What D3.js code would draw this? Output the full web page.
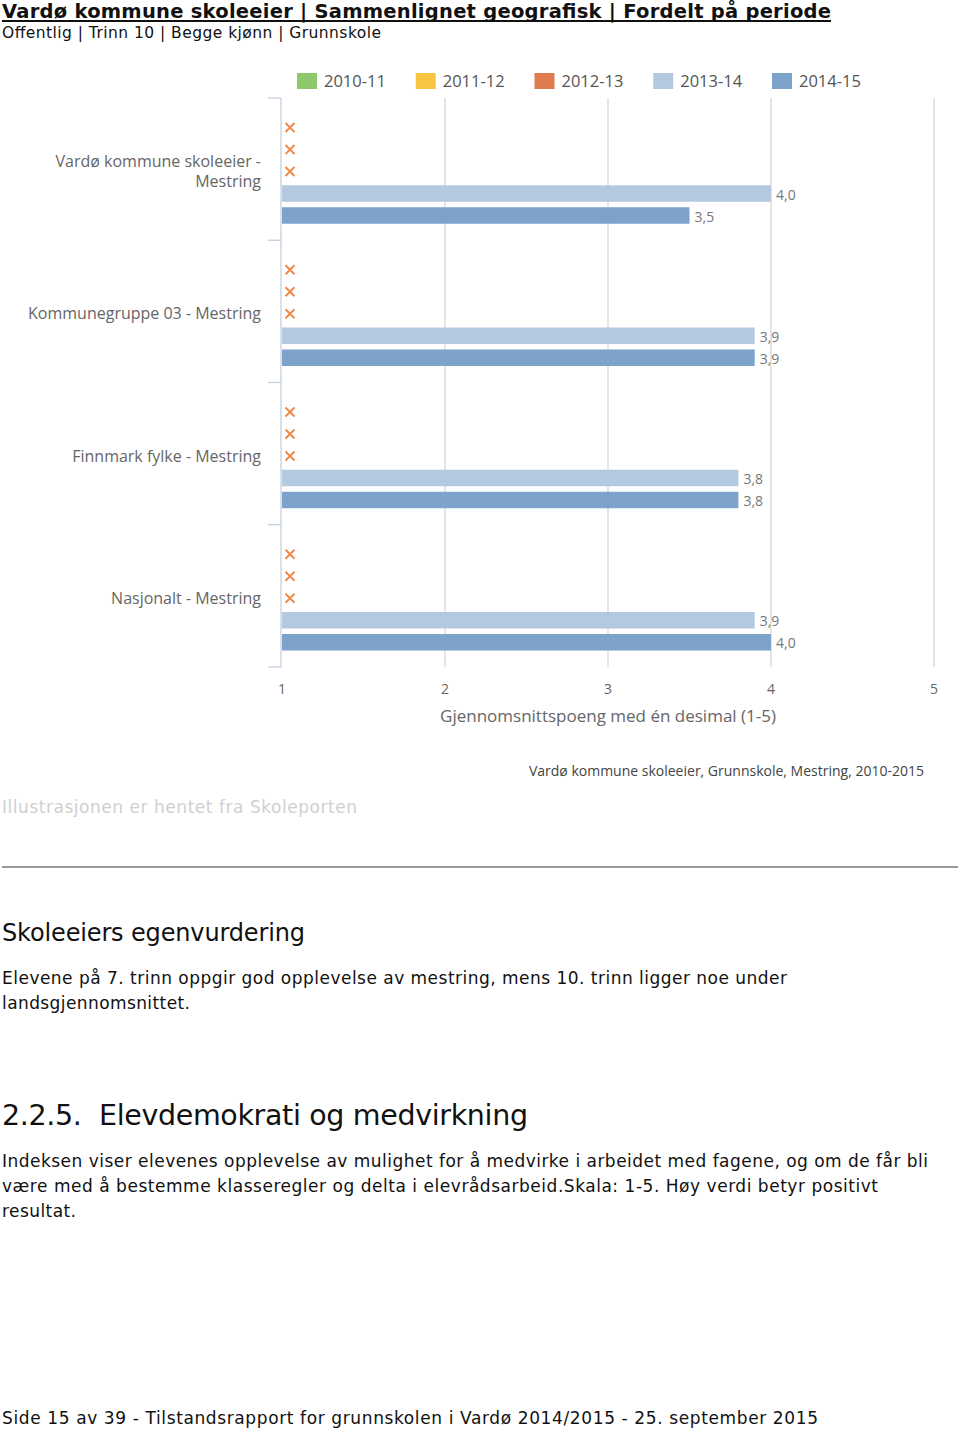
<!DOCTYPE html>
<html><head><meta charset="utf-8">
<script src="https://cdn.jsdelivr.net/npm/d3@7"></script>
<style>
body{margin:0;background:#fff;}
svg{display:block;}
</style></head>
<body>
<svg id="c" width="960" height="1432"></svg>
<script>
// ---- data ----
const categories = ["Vardø kommune skoleeier - Mestring", "Kommunegruppe 03 - Mestring", "Finnmark fylke - Mestring", "Nasjonalt - Mestring"];
const categoryLines = [["Vardø kommune skoleeier -", "Mestring"], ["Kommunegruppe 03 - Mestring"], ["Finnmark fylke - Mestring"], ["Nasjonalt - Mestring"]];
const periods = ["2010-11", "2011-12", "2012-13", "2013-14", "2014-15"];
const periodColors = ["#8DC96B", "#F9C440", "#E07B4F", "#B3C9DF", "#7DA3CA"];
const values2010_11 = [null, null, null, null];
const values2011_12 = [null, null, null, null];
const values2012_13 = [null, null, null, null];
const values2013_14 = [4.0, 3.9, 3.8, 3.9];
const values2014_15 = [3.5, 3.9, 3.8, 4.0];
const seriesValues = [values2010_11, values2011_12, values2012_13, values2013_14, values2014_15];
const xTicks = [1, 2, 3, 4, 5];

const svg = d3.select("#c");
const SANS = "'DejaVu Sans', Verdana, sans-serif";
const CH = "'Open Sans', 'Segoe UI', sans-serif";

function bodyText(x, y, size, txt, width, opts = {}) {
  const t = svg.append("text").attr("x", x).attr("y", y)
    .attr("font-family", SANS).attr("font-size", size).attr("fill", opts.fill || "#111")
    .attr("font-weight", opts.bold ? "bold" : "normal")
    .attr("xml:space", "preserve")
    .text(txt);
  if (width) t.attr("textLength", width).attr("lengthAdjust", "spacing");
  return t;
}

// ---- header ----
bodyText(2, 18, 19.5, "Vardø kommune skoleeier | Sammenlignet geografisk | Fordelt på periode", 829, { bold: true });
svg.append("line").attr("x1", 2).attr("x2", 831).attr("y1", 21).attr("y2", 21)
  .attr("stroke", "#111").attr("stroke-width", 2);
bodyText(2, 38, 15.5, "Offentlig | Trinn 10 | Begge kjønn | Grunnskole", 379);

// ---- scales ----
const x = d3.scaleLinear().domain([1, 5]).range([282, 934]);
const y = d3.scaleBand().domain(categories).range([98, 667]).padding(0);
const inner = d3.scaleBand().domain(periods).range([18.5, 128.5]).paddingInner(0.25).paddingOuter(0.125);

// gridlines
svg.append("g").selectAll("line").data(xTicks.slice(1)).join("line")
  .attr("x1", d => x(d)).attr("x2", d => x(d)).attr("y1", 98).attr("y2", 667)
  .attr("stroke", "#DDDDDD").attr("stroke-width", 1.5);

// x tick labels
svg.append("g").selectAll("text").data(xTicks).join("text")
  .attr("x", d => x(d)).attr("y", 694).attr("text-anchor", "middle")
  .attr("font-family", CH).attr("font-size", 14).attr("fill", "#666")
  .text(d => d);

svg.append("text").attr("x", x(3)).attr("y", 722).attr("text-anchor", "middle")
  .attr("font-family", CH).attr("font-size", 17).attr("fill", "#666")
  .text("Gjennomsnittspoeng med én desimal (1-5)");

// left axis
svg.append("line").attr("x1", 281).attr("x2", 281).attr("y1", 98).attr("y2", 667)
  .attr("stroke", "#C0CCDA").attr("stroke-width", 1.2);
const bounds = categories.map(c => y(c)).concat([y.range()[1]]);
svg.append("g").selectAll("line").data(bounds).join("line")
  .attr("x1", 268).attr("x2", 281).attr("y1", d => d).attr("y2", d => d)
  .attr("stroke", "#C0CCDA").attr("stroke-width", 1.2);

// category labels
categories.forEach((c, i) => {
  const lines = categoryLines[i];
  const cy = y(c) + y.bandwidth() / 2;
  const lh = 20;
  const t = svg.append("text").attr("text-anchor", "end")
    .attr("font-family", CH).attr("font-size", 16).attr("fill", "#666");
  lines.forEach((l, j) => {
    t.append("tspan").attr("x", 261)
      .attr("y", cy + (j - (lines.length - 1) / 2) * lh + 8)
      .text(l);
  });
});

// bars & missing markers
periods.forEach((p, si) => {
  categories.forEach((c, ci) => {
    const v = seriesValues[si][ci];
    const top = y(c) + inner(p);
    const cy = top + inner.bandwidth() / 2;
    if (v == null) {
      const s = 4.5, cx = 290;
      svg.append("path")
        .attr("d", `M${cx - s},${cy - s}L${cx + s},${cy + s}M${cx - s},${cy + s}L${cx + s},${cy - s}`)
        .attr("stroke", "#EE8A4C").attr("stroke-width", 2).attr("fill", "none");
    } else {
      svg.append("rect").attr("x", x(1)).attr("y", top)
        .attr("width", x(v) - x(1)).attr("height", inner.bandwidth())
        .attr("fill", periodColors[si]);
      svg.append("text").attr("x", x(v) + 5).attr("y", cy + 6)
        .attr("font-family", CH).attr("font-size", 14).attr("fill", "#777")
        .text(d3.format(".1f")(v).replace(".", ","));
    }
  });
});

// legend
const legendX = d3.scalePoint().domain(periods).range([297, 772]);
const lg = svg.append("g").selectAll("g").data(periods).join("g")
  .attr("transform", d => `translate(${legendX(d)},73)`);
lg.append("rect").attr("width", 20).attr("height", 16).attr("fill", (d, i) => periodColors[i]);
lg.append("text").attr("x", 27).attr("y", 14).attr("font-family", CH).attr("font-size", 16.5).attr("fill", "#555")
  .text(d => d);

// source
svg.append("text").attr("x", 924).attr("y", 776).attr("text-anchor", "end")
  .attr("font-family", CH).attr("font-size", 14).attr("fill", "#444")
  .text("Vardø kommune skoleeier, Grunnskole, Mestring, 2010-2015");

// ---- below chart ----
bodyText(2, 813, 17, "Illustrasjonen er hentet fra Skoleporten", 355, { fill: "#D0D0D0" });
svg.append("line").attr("x1", 2).attr("x2", 958).attr("y1", 867).attr("y2", 867)
  .attr("stroke", "#999").attr("stroke-width", 2);

bodyText(2, 941, 24, "Skoleeiers egenvurdering", 303);
bodyText(2, 984, 17, "Elevene på 7. trinn oppgir god opplevelse av mestring, mens 10. trinn ligger noe under", 785);
bodyText(2, 1009, 17, "landsgjennomsnittet.", 188);

bodyText(2, 1125, 28.5, "2.2.5.  Elevdemokrati og medvirkning", 526);
bodyText(2, 1167, 17, "Indeksen viser elevenes opplevelse av mulighet for å medvirke i arbeidet med fagene, og om de får bli", 926);
bodyText(2, 1192, 17, "være med å bestemme klasseregler og delta i elevrådsarbeid.Skala: 1-5. Høy verdi betyr positivt", 876);
bodyText(2, 1217, 17, "resultat.", 74);

bodyText(2, 1424, 17, "Side 15 av 39 - Tilstandsrapport for grunnskolen i Vardø 2014/2015 - 25. september 2015", 816);
</script>
</body></html>
